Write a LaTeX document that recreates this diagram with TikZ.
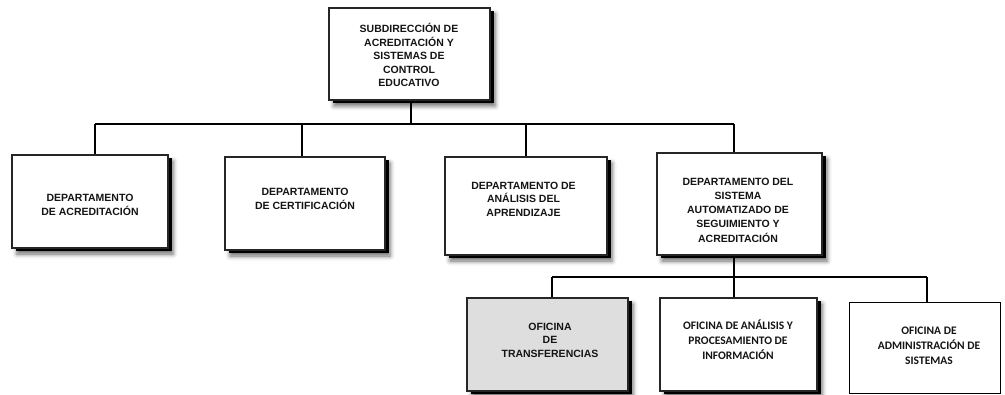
\documentclass[tikz,border=0pt]{standalone}
\usepackage{fontspec}
\setmainfont{Liberation Sans}
\newfontfamily\carl{Carlito}
\usetikzlibrary{shadows,shadows.blur}
\definecolor{boxgrey}{HTML}{DEDEDE}
\begin{document}
\begin{tikzpicture}[x=1pt,y=-1pt,
  box/.style={draw=black!85, line width=1.5pt, fill=white, rectangle, inner sep=0pt},
  shbox/.style={box,
    blur shadow={shadow xshift=5pt, shadow yshift=-6pt, shadow blur radius=4.5pt, shadow opacity=60},
    drop shadow={shadow xshift=3.5pt, shadow yshift=-3.5pt, fill=black, opacity=1}},
  plainbox/.style={draw=black, line width=0.9pt, fill=white, rectangle, inner sep=0pt},
  txt/.style={align=center, font=\bfseries\fontsize{10.5}{13.5}\selectfont, text=black!92, inner sep=0pt},
  ctxt/.style={align=center, font=\carl\bfseries\fontsize{11.5}{14.8}\selectfont, text=black!92, inner sep=0pt},
  conn/.style={line width=1.2pt, black}
]
\useasboundingbox (0,0) rectangle (1005,395);

% boxes
\node[shbox, minimum width=161pt, minimum height=92pt] (top) at (409.5,54) {};
\node[shbox, minimum width=156pt, minimum height=93pt] (d1) at (90,201.5) {};
\node[shbox, minimum width=160pt, minimum height=93pt] (d2) at (305,203.5) {};
\node[shbox, minimum width=162pt, minimum height=98pt] (d3) at (526,206) {};
\node[shbox, minimum width=165pt, minimum height=102pt] (d4) at (739.5,204) {};
\node[shbox, fill=boxgrey, minimum width=161pt, minimum height=93pt] (o1) at (547.5,344.5) {};
\node[shbox, minimum width=157pt, minimum height=93pt] (o2) at (738.5,344.5) {};
\node[plainbox, minimum width=151pt, minimum height=91pt] (o3) at (924.5,347.5) {};

% texts
\node[txt] (ttop) at (409,55) {SUBDIRECCIÓN DE\\ACREDITACIÓN Y\\SISTEMAS DE\\CONTROL\\EDUCATIVO};
\node[txt] (t1) at (90,205) {DEPARTAMENTO\\DE ACREDITACIÓN};
\node[txt] (t2) at (305,199) {DEPARTAMENTO\\DE CERTIFICACIÓN};
\node[txt] (t3) at (523.5,199) {DEPARTAMENTO DE\\ANÁLISIS DEL\\APRENDIZAJE};
\node[txt, font=\bfseries\fontsize{10.5}{14.2}\selectfont] (t4) at (738,210) {DEPARTAMENTO DEL\\SISTEMA\\AUTOMATIZADO DE\\SEGUIMIENTO Y\\ACREDITACIÓN};
\node[txt] (t5) at (550,340) {OFICINA\\DE\\TRANSFERENCIAS};
\node[ctxt] (t6) at (738,340) {OFICINA DE ANÁLISIS Y\\PROCESAMIENTO DE\\INFORMACIÓN};
\node[ctxt] (t7) at (929,346) {OFICINA DE\\ADMINISTRACIÓN DE\\SISTEMAS};

% bus coordinates
\coordinate (bt) at (411,124);
\coordinate (b1) at (95,124);
\coordinate (b2) at (302,124);
\coordinate (b3) at (526,124);
\coordinate (b4) at (734,124);
\coordinate (c1) at (552,277);
\coordinate (c2) at (734,277);
\coordinate (c3) at (927,277);

% connectors
\draw[conn] (top.south -| bt) -- (bt);
\draw[conn] (b1) -- (b4);
\draw[conn] (b1) -- (b1 |- d1.north);
\draw[conn] (b2) -- (b2 |- d2.north);
\draw[conn] (b3) -- (b3 |- d3.north);
\draw[conn] (b4) -- (b4 |- d4.north);
\draw[conn] (d4.south -| c2) -- (c2 |- o2.north);
\draw[conn] (c1) -- (c3);
\draw[conn] (c1) -- (c1 |- o1.north);
\draw[conn] (c3) -- (c3 |- o3.north);
\end{tikzpicture}
\end{document}
